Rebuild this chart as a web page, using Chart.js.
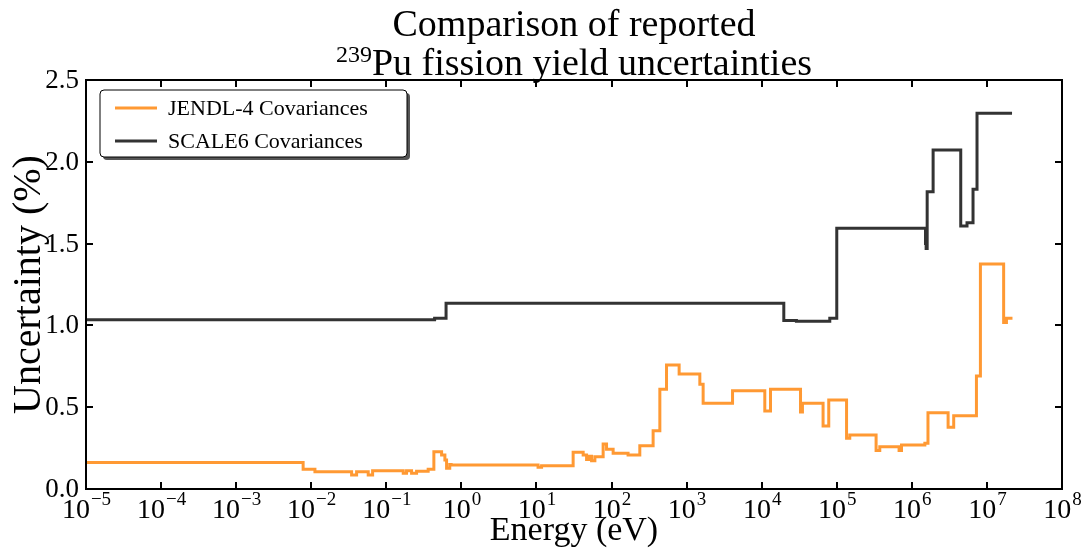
<!DOCTYPE html>
<html lang="en">
<head>
<meta charset="UTF-8">
<title>239Pu fission yield uncertainties</title>
<script src="https://cdn.jsdelivr.net/npm/chart.js"></script>
<style>
    html, body { margin: 0; padding: 0; background: #fff; }
    #wrap { width: 1092px; height: 550px; position: relative; }
</style>
</head>
<body>
<div id="wrap"><canvas id="uncChart"></canvas></div>
<script>
// group edges (eV) and the uncertainty (%) valid from that edge upward
const jendlEnergy = [1e-5, 7.8e-3, 0.0112, 0.0345, 0.0402, 0.0574, 0.0657, 0.168, 0.186, 0.217, 0.253, 0.361,
    0.43, 0.545, 0.603, 0.635, 0.70, 0.73, 10.5, 11.7, 30.8, 41.9, 46.5, 49.9, 54.2, 60, 77.3, 85.8, 105, 166,
    238, 358, 440, 540, 795, 1500, 1660, 4090, 1.1e4, 1.31e4, 3.29e4, 3.49e4, 6.57e4, 7.82e4, 1.35e5, 1.49e5,
    3.34e5, 3.74e5, 6.76e5, 7.28e5, 1.49e6, 1.64e6, 3.04e6, 3.61e6, 7.25e6, 8.19e6, 1.67e7, 1.82e7, 2.19e7];
const jendlUnc = [0.162, 0.12, 0.106, 0.086, 0.106, 0.086, 0.112, 0.096, 0.112, 0.096, 0.108, 0.12,
    0.228, 0.208, 0.177, 0.127, 0.15, 0.147, 0.133, 0.142, 0.224, 0.208, 0.18, 0.2, 0.173, 0.197, 0.275, 0.243, 0.218, 0.208,
    0.265, 0.356, 0.609, 0.758, 0.703, 0.64, 0.524, 0.601, 0.477, 0.609, 0.47, 0.524, 0.385, 0.544, 0.31, 0.33,
    0.235, 0.259, 0.235, 0.269, 0.28, 0.466, 0.377, 0.448, 0.69, 1.375, 1.017, 1.043, 1.043];

const scaleEnergy = [1e-5, 0.44, 0.625, 1.97e4, 2.9e4, 8.07e4, 1e5, 1.52e6, 1.55e6, 1.6e6, 1.92e6,
    4.48e6, 5.43e6, 6.53e6, 7.38e6, 2.16e7];
const scaleUnc = [1.035, 1.043, 1.135, 1.03, 1.025, 1.043, 1.594, 1.50, 1.47, 1.817, 2.072,
    1.608, 1.628, 1.832, 2.296, 2.296];

const seriesNames = ['JENDL-4 Covariances', 'SCALE6 Covariances'];
const seriesColors = ['#ff9933', '#333333'];

const xTickExp = [-5, -4, -3, -2, -1, 0, 1, 2, 3, 4, 5, 6, 7, 8];
const yTicks = [0.0, 0.5, 1.0, 1.5, 2.0, 2.5];

const titleLine1 = 'Comparison of reported';
const titleSup = '239';
const titleLine2 = 'Pu fission yield uncertainties';
const xTitle = 'Energy (eV)';
const yTitle = 'Uncertainty (%)';

const SERIF = '"Liberation Serif", "DejaVu Serif", serif';

function toPoints(xs, ys) {
    return xs.map((x, i) => ({ x: x, y: ys[i] }));
}

// spines, inward ticks, labels, title and legend drawn by hand
const decorPlugin = {
    id: 'decor',
    afterDraw(chart) {
        const ctx = chart.ctx;
        const a = chart.chartArea;
        const xs = chart.scales.x;
        const ys = chart.scales.y;
        ctx.save();

        // ticks on all four sides, pointing inward
        ctx.strokeStyle = '#000';
        ctx.lineWidth = 2;
        ctx.beginPath();
        xTickExp.forEach(e => {
            const px = Math.round(xs.getPixelForValue(Math.pow(10, e)));
            ctx.moveTo(px, a.bottom); ctx.lineTo(px, a.bottom - 7);
            ctx.moveTo(px, a.top); ctx.lineTo(px, a.top + 7);
        });
        yTicks.forEach(v => {
            const py = Math.round(ys.getPixelForValue(v));
            ctx.moveTo(a.left, py); ctx.lineTo(a.left + 7, py);
            ctx.moveTo(a.right, py); ctx.lineTo(a.right - 7, py);
        });
        ctx.stroke();

        // frame
        ctx.lineWidth = 2;
        ctx.strokeRect(a.left, a.top, a.right - a.left, a.bottom - a.top);

        ctx.fillStyle = '#000';

        // y tick labels
        ctx.font = '27px ' + SERIF;
        ctx.textAlign = 'right';
        ctx.textBaseline = 'middle';
        yTicks.forEach(v => {
            ctx.fillText(v.toFixed(1), a.left - 7, ys.getPixelForValue(v) + 1);
        });

        // x tick labels: 10 with a raised exponent
        ctx.textBaseline = 'alphabetic';
        ctx.textAlign = 'left';
        xTickExp.forEach(e => {
            const px = xs.getPixelForValue(Math.pow(10, e));
            const expText = e < 0 ? '\u2212' + Math.abs(e) : String(e);
            ctx.font = '28px ' + SERIF;
            const wBase = ctx.measureText('10').width;
            ctx.font = '19px ' + SERIF;
            const wExp = ctx.measureText(expText).width;
            const x0 = px - (wBase + wExp) / 2;
            ctx.font = '28px ' + SERIF;
            ctx.fillText('10', x0, 518);
            ctx.font = '19px ' + SERIF;
            ctx.fillText(expText, x0 + wBase + 1, 505);
        });

        // axis titles
        ctx.textAlign = 'center';
        ctx.font = '34px ' + SERIF;
        ctx.fillText(xTitle, (a.left + a.right) / 2, 540);

        ctx.save();
        ctx.translate(40, (a.top + a.bottom) / 2);
        ctx.rotate(-Math.PI / 2);
        ctx.font = '40px ' + SERIF;
        ctx.fillText(yTitle, 0, 0);
        ctx.restore();

        // two-line title with a superscript mass number
        const cx = (a.left + a.right) / 2;
        ctx.font = '38px ' + SERIF;
        ctx.fillText(titleLine1, cx, 36);
        ctx.font = '24px ' + SERIF;
        const wSup = ctx.measureText(titleSup).width;
        ctx.font = '38px ' + SERIF;
        const wMain = ctx.measureText(titleLine2).width;
        const tx = cx - (wSup + wMain) / 2;
        ctx.textAlign = 'left';
        ctx.font = '24px ' + SERIF;
        ctx.fillText(titleSup, tx, 62);
        ctx.font = '38px ' + SERIF;
        ctx.fillText(titleLine2, tx + wSup, 75);

        // legend box with drop shadow
        const bx = 100, by = 90, bw = 307, bh = 67;
        ctx.fillStyle = '#555';
        roundRect(ctx, bx + 3, by + 3, bw, bh, 4);
        ctx.fill();
        ctx.fillStyle = '#fff';
        roundRect(ctx, bx, by, bw, bh, 4);
        ctx.fill();
        ctx.strokeStyle = '#000';
        ctx.lineWidth = 1;
        ctx.stroke();

        ctx.font = '22px ' + SERIF;
        ctx.textBaseline = 'middle';
        chart.data.datasets.forEach((ds, i) => {
            const ly = by + 18 + i * 33;
            ctx.strokeStyle = ds.borderColor;
            ctx.lineWidth = 3;
            ctx.beginPath();
            ctx.moveTo(115, ly); ctx.lineTo(157, ly);
            ctx.stroke();
            ctx.fillStyle = '#000';
            ctx.fillText(ds.label, 168, ly + 1);
        });

        ctx.restore();
    }
};

function roundRect(ctx, x, y, w, h, r) {
    ctx.beginPath();
    ctx.moveTo(x + r, y);
    ctx.lineTo(x + w - r, y);
    ctx.quadraticCurveTo(x + w, y, x + w, y + r);
    ctx.lineTo(x + w, y + h - r);
    ctx.quadraticCurveTo(x + w, y + h, x + w - r, y + h);
    ctx.lineTo(x + r, y + h);
    ctx.quadraticCurveTo(x, y + h, x, y + h - r);
    ctx.lineTo(x, y + r);
    ctx.quadraticCurveTo(x, y, x + r, y);
    ctx.closePath();
}

new Chart(document.getElementById('uncChart'), {
    type: 'line',
    data: {
        datasets: [
            {
                label: seriesNames[0],
                data: toPoints(jendlEnergy, jendlUnc),
                borderColor: seriesColors[0],
                borderWidth: 3,
                stepped: true,
                pointRadius: 0,
                fill: false
            },
            {
                label: seriesNames[1],
                data: toPoints(scaleEnergy, scaleUnc),
                borderColor: seriesColors[1],
                borderWidth: 3,
                stepped: true,
                pointRadius: 0,
                fill: false
            }
        ]
    },
    options: {
        responsive: true,
        maintainAspectRatio: false,
        animation: false,
        layout: { padding: { left: 86, right: 30, top: 80, bottom: 61 } },
        plugins: {
            legend: { display: false },
            title: { display: false },
            tooltip: { enabled: false }
        },
        scales: {
            x: {
                type: 'logarithmic',
                min: 1e-5,
                max: 1e8,
                grid: { display: false },
                border: { display: false },
                ticks: { display: false },
                afterFit(scale) { scale.height = 0; }
            },
            y: {
                min: 0,
                max: 2.5,
                grid: { display: false },
                border: { display: false },
                ticks: { display: false },
                afterFit(scale) { scale.width = 0; }
            }
        }
    },
    plugins: [decorPlugin]
});
</script>
</body>
</html>
